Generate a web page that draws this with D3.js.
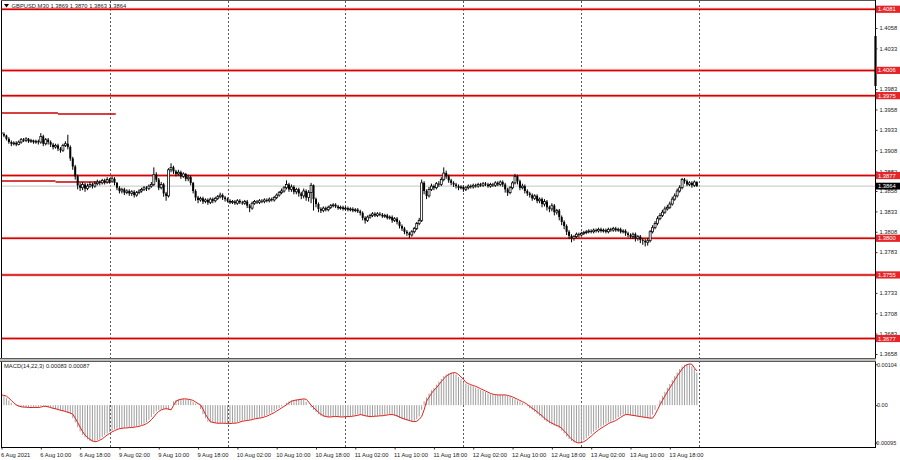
<!DOCTYPE html>
<html><head><meta charset="utf-8">
<script src="https://cdn.jsdelivr.net/npm/d3@7/dist/d3.min.js"></script>
<style>
body{margin:0;background:#fff}
svg{display:block}
text{font-family:"Liberation Sans",Arial,sans-serif;fill:#1a1a1a}
</style>
</head><body>
<svg id="chart" width="900" height="460"></svg>
<script>
// ---------------- DATA ----------------
const symbolTitle = "GBPUSD,M30";
const lastBarText = "1.3869 1.3870 1.3863 1.3864";
const macdTitle = "MACD(14,22,3) 0.00083 0.00087";

// M30 candles, prices in 1/10000 units (13864 = 1.3864)
const opens = [
13930,13928,13926,13922,13918,13916,13917,13915,13918,13921,
13920,13922,13919,13920,13918,13919,13918,13925,13916,13921,
13918,13915,13912,13914,13910,13908,13914,13916,13912,13898,
13888,13876,13865,13862,13866,13861,13864,13866,13864,13867,
13869,13868,13871,13869,13872,13870,13873,13868,13862,13858,
13860,13856,13858,13855,13857,13853,13856,13858,13860,13862,
13861,13864,13866,13878,13872,13862,13866,13855,13852,13884,
13887,13882,13879,13881,13876,13879,13873,13875,13868,13858,
13850,13847,13849,13845,13847,13844,13848,13846,13849,13851,
13853,13850,13848,13846,13844,13845,13843,13846,13844,13843,
13845,13840,13837,13843,13845,13844,13846,13845,13847,13846,
13848,13847,13850,13853,13856,13858,13862,13866,13860,13863,
13857,13860,13855,13852,13858,13850,13856,13865,13848,13842,
13836,13834,13837,13835,13838,13840,13841,13839,13837,13838,
13836,13837,13835,13836,13834,13835,13833,13831,13825,13822,
13826,13828,13830,13828,13830,13829,13827,13828,13825,13826,
13822,13824,13820,13815,13812,13808,13806,13804,13808,13812,
13818,13822,13868,13858,13852,13860,13864,13862,13867,13866,
13872,13880,13876,13871,13868,13866,13864,13862,13863,13860,
13862,13864,13863,13865,13864,13866,13865,13867,13866,13864,
13866,13865,13868,13866,13869,13866,13860,13856,13862,13868,
13876,13870,13862,13864,13858,13855,13853,13849,13852,13846,
13848,13842,13845,13838,13836,13840,13832,13834,13826,13820,
13815,13808,13803,13800,13802,13805,13804,13806,13807,13808,
13809,13808,13810,13809,13811,13809,13810,13808,13811,13810,
13812,13810,13811,13808,13809,13806,13804,13802,13805,13800,
13802,13798,13797,13795,13797,13808,13813,13818,13824,13828,
13832,13836,13838,13842,13848,13852,13858,13862,13872,13870,
13866,13868,13865,13869];
const highs = [
13932,13930,13927,13924,13920,13919,13919,13920,13923,13923,
13924,13923,13922,13921,13921,13921,13929,13927,13923,13923,
13920,13917,13916,13916,13912,13916,13919,13927,13914,13900,
13890,13878,13868,13869,13868,13867,13869,13868,13870,13872,
13871,13873,13873,13875,13874,13876,13875,13869,13864,13862,
13862,13860,13860,13859,13859,13858,13860,13862,13864,13864,
13866,13869,13887,13881,13874,13869,13868,13857,13886,13892,
13889,13884,13884,13883,13881,13880,13878,13877,13869,13860,
13852,13851,13851,13849,13849,13850,13850,13851,13853,13856,
13855,13852,13850,13848,13847,13847,13848,13848,13846,13847,
13847,13842,13845,13847,13847,13848,13848,13849,13849,13850,
13850,13852,13855,13858,13861,13864,13871,13868,13866,13865,
13862,13862,13857,13861,13860,13859,13868,13866,13850,13844,
13838,13839,13839,13840,13842,13843,13843,13841,13840,13840,
13839,13839,13838,13838,13837,13837,13835,13833,13827,13828,
13830,13832,13832,13832,13832,13831,13830,13830,13828,13828,
13826,13826,13822,13817,13814,13810,13808,13810,13814,13820,
13825,13872,13870,13860,13863,13867,13866,13869,13870,13875,
13887,13883,13878,13873,13870,13868,13866,13865,13865,13864,
13866,13866,13867,13867,13868,13868,13869,13869,13868,13868,
13868,13870,13870,13871,13871,13868,13862,13864,13870,13879,
13878,13872,13867,13866,13860,13857,13855,13854,13854,13850,
13850,13848,13847,13840,13843,13842,13836,13836,13828,13822,
13817,13810,13805,13804,13807,13807,13808,13809,13810,13811,
13811,13812,13812,13813,13813,13812,13812,13813,13813,13814,
13814,13813,13813,13811,13811,13808,13806,13807,13807,13804,
13804,13800,13799,13800,13810,13816,13821,13827,13831,13835,
13839,13841,13845,13851,13855,13861,13865,13874,13874,13872,
13870,13870,13871,13870];
const lows = [
13926,13924,13920,13916,13913,13914,13913,13914,13916,13918,
13918,13917,13917,13916,13916,13915,13916,13913,13914,13915,
13912,13909,13910,13907,13905,13906,13912,13909,13895,13884,
13872,13860,13858,13859,13857,13859,13862,13861,13862,13865,
13865,13866,13866,13867,13867,13868,13865,13859,13855,13855,
13853,13854,13852,13852,13850,13851,13854,13856,13858,13858,
13859,13862,13864,13869,13859,13860,13851,13846,13850,13881,
13879,13876,13877,13873,13874,13870,13870,13865,13855,13846,
13843,13845,13842,13843,13841,13842,13843,13844,13847,13849,
13847,13845,13844,13842,13842,13841,13841,13842,13841,13841,
13837,13832,13835,13841,13842,13842,13843,13843,13844,13844,
13845,13845,13848,13851,13854,13856,13860,13857,13857,13854,
13854,13851,13848,13849,13846,13845,13843,13834,13838,13832,
13831,13832,13833,13833,13836,13838,13837,13835,13835,13834,
13834,13833,13833,13832,13832,13831,13828,13822,13818,13820,
13824,13826,13826,13826,13827,13825,13825,13823,13823,13819,
13820,13817,13812,13809,13805,13803,13800,13802,13806,13810,
13816,13820,13854,13848,13850,13858,13859,13860,13863,13864,
13870,13873,13868,13865,13863,13861,13859,13860,13857,13858,
13860,13861,13861,13862,13862,13863,13863,13864,13862,13862,
13863,13863,13864,13864,13863,13856,13852,13854,13860,13866,
13866,13859,13860,13855,13852,13850,13846,13847,13843,13843,
13838,13839,13834,13832,13833,13828,13829,13822,13816,13811,
13804,13799,13795,13797,13800,13801,13802,13804,13805,13806,
13806,13806,13807,13807,13807,13807,13806,13806,13808,13808,
13808,13808,13806,13806,13803,13801,13799,13799,13796,13797,
13794,13792,13790,13791,13795,13806,13811,13816,13822,13826,
13830,13834,13836,13840,13846,13850,13856,13860,13867,13864,
13864,13862,13863,13863];
const closes = [
13928,13926,13922,13918,13916,13917,13915,13918,13921,13920,
13922,13919,13920,13918,13919,13918,13925,13916,13921,13918,
13915,13912,13914,13910,13908,13914,13916,13912,13898,13888,
13876,13865,13862,13866,13861,13864,13866,13864,13867,13869,
13868,13871,13869,13872,13870,13873,13868,13862,13858,13860,
13856,13858,13855,13857,13853,13856,13858,13860,13862,13861,
13864,13866,13878,13872,13862,13866,13855,13852,13884,13887,
13882,13879,13881,13876,13879,13873,13875,13868,13858,13850,
13847,13849,13845,13847,13844,13848,13846,13849,13851,13853,
13850,13848,13846,13844,13845,13843,13846,13844,13843,13845,
13840,13837,13843,13845,13844,13846,13845,13847,13846,13848,
13847,13850,13853,13856,13858,13862,13866,13860,13863,13857,
13860,13855,13852,13858,13850,13856,13865,13848,13842,13836,
13834,13837,13835,13838,13840,13841,13839,13837,13838,13836,
13837,13835,13836,13834,13835,13833,13831,13825,13822,13826,
13828,13830,13828,13830,13829,13827,13828,13825,13826,13822,
13824,13820,13815,13812,13808,13806,13804,13808,13812,13818,
13822,13868,13858,13852,13860,13864,13862,13867,13866,13872,
13880,13876,13871,13868,13866,13864,13862,13863,13860,13862,
13864,13863,13865,13864,13866,13865,13867,13866,13864,13866,
13865,13868,13866,13869,13866,13860,13856,13862,13868,13876,
13870,13862,13864,13858,13855,13853,13849,13852,13846,13848,
13842,13845,13838,13836,13840,13832,13834,13826,13820,13815,
13808,13803,13800,13802,13805,13804,13806,13807,13808,13809,
13808,13810,13809,13811,13809,13810,13808,13811,13810,13812,
13810,13811,13808,13809,13806,13804,13802,13805,13800,13802,
13798,13797,13795,13797,13808,13813,13818,13824,13828,13832,
13836,13838,13842,13848,13852,13858,13862,13872,13870,13866,
13868,13865,13869,13864];

// MACD(14,22,3) in 1e-5 units
const macdMain = [
25,23,18,12,6,1,-2,-4,-5,-5,
-6,-6,-6,-6,-6,-5,-3,-3,-4,-6,
-8,-9,-11,-13,-14,-16,-18,-20,-23,-33,
-44,-56,-67,-76,-82,-87,-91,-93,-92,-89,
-86,-81,-76,-72,-68,-65,-62,-60,-59,-58,
-58,-57,-57,-56,-55,-54,-52,-50,-47,-43,
-37,-30,-22,-16,-12,-10,-9,-10,-12,-1,
10,13,15,16,16,15,14,12,8,4,
1,-10,-23,-33,-42,-44,-45,-46,-46,-46,
-46,-47,-47,-46,-46,-45,-43,-41,-40,-39,
-38,-37,-35,-34,-33,-32,-30,-28,-25,-22,
-19,-15,-11,-7,-3,1,6,10,12,13,
14,15,16,15,8,0,-6,-12,-18,-23,
-27,-29,-30,-30,-29,-29,-29,-30,-30,-29,
-29,-29,-28,-27,-26,-24,-25,-27,-28,-29,
-29,-28,-28,-27,-27,-26,-25,-24,-24,-25,
-27,-30,-33,-35,-37,-39,-41,-42,-41,-36,
-29,-12,10,20,30,38,44,52,60,67,
74,78,81,83,82,78,72,66,58,55,
52,50,48,45,42,39,36,33,30,28,
27,26,26,26,26,25,23,21,18,15,
12,9,6,2,-3,-8,-12,-17,-22,-27,
-33,-38,-42,-46,-49,-52,-54,-59,-65,-72,
-80,-86,-91,-95,-96,-95,-93,-89,-84,-79,
-73,-68,-63,-59,-55,-51,-47,-44,-42,-39,
-35,-31,-27,-24,-24,-25,-26,-27,-28,-29,
-30,-31,-32,-33,-33,-24,-12,1,12,23,
34,44,54,64,74,83,92,99,103,105,
104,99,92,83];
const macdSignal = [
26,25,23,18,12,6,1,-2,-4,-5,
-5,-6,-6,-6,-6,-6,-5,-3,-3,-4,
-6,-8,-9,-11,-13,-14,-16,-18,-20,-23,
-33,-44,-56,-67,-76,-82,-87,-91,-93,-92,
-89,-86,-81,-76,-72,-68,-65,-62,-60,-59,
-58,-58,-57,-57,-56,-55,-54,-52,-50,-47,
-43,-37,-30,-22,-16,-12,-10,-9,-10,-12,
-1,10,13,15,16,16,15,14,12,8,
4,1,-10,-23,-33,-42,-44,-45,-46,-46,
-46,-46,-47,-47,-46,-46,-45,-43,-41,-40,
-39,-38,-37,-35,-34,-33,-32,-30,-28,-25,
-22,-19,-15,-11,-7,-3,1,6,10,12,
13,14,15,16,15,8,0,-6,-12,-18,
-23,-27,-29,-30,-30,-29,-29,-29,-30,-30,
-29,-29,-29,-28,-27,-26,-24,-25,-27,-28,
-29,-29,-28,-28,-27,-27,-26,-25,-24,-24,
-25,-27,-30,-33,-35,-37,-39,-41,-42,-41,
-36,-29,-12,10,20,30,38,44,52,60,
67,74,78,81,83,82,78,72,66,58,
55,52,50,48,45,42,39,36,33,30,
28,27,26,26,26,26,25,23,21,18,
15,12,9,6,2,-3,-8,-12,-17,-22,
-27,-33,-38,-42,-46,-49,-52,-54,-59,-65,
-72,-80,-86,-91,-95,-96,-95,-93,-89,-84,
-79,-73,-68,-63,-59,-55,-51,-47,-44,-42,
-39,-35,-31,-27,-24,-24,-25,-26,-27,-28,
-29,-30,-31,-32,-33,-33,-24,-12,1,12,
23,34,44,54,64,74,83,92,99,103,
105,104,95,87];

// horizontal support / resistance levels
const levelPrices = [1.4081, 1.4006, 1.3975, 1.3877, 1.3800, 1.3755, 1.3677];
const levelLabels = ["1.4081", "1.4006", "1.3975", "1.3877", "1.3800", "1.3755", "1.3677"];
// short old level segments at the left (bar from, bar to, price)
const segFrom = [0, 23, 0, 22];
const segTo = [23, 46.5, 22, 44];
const segPrice = [1.39537, 1.39525, 1.38703, 1.38690];
const bidPrice = 1.3864;
const bidLabel = "1.3864";

const priceTickLabels = ["1.4058","1.4033","1.3983","1.3958","1.3933","1.3908","1.3882","1.3858","1.3833","1.3808","1.3783","1.3733","1.3708","1.3683","1.3658"];
const macdTickLabels = ["0.00104", "0.00", "-0.00095"];
const timeLabels = ["6 Aug 2021","6 Aug 10:00","6 Aug 18:00","9 Aug 02:00","9 Aug 10:00","9 Aug 18:00","10 Aug 02:00","10 Aug 10:00","10 Aug 18:00","11 Aug 02:00","11 Aug 10:00","11 Aug 18:00","12 Aug 02:00","12 Aug 10:00","12 Aug 18:00","13 Aug 02:00","13 Aug 10:00","13 Aug 18:00"];
const timeLabelBars = [0,16,32,48,64,80,96,112,128,144,160,176,192,208,224,240,256,272];
const dayStartBars = [44, 92, 140, 188, 236, 284];

// ---------------- CHART ----------------
const svg = d3.select("#chart");
const W = 900;
const plotL = 1, plotR = 875;
const mainTop = 1, mainBot = 358;
const subTop = 361, subBot = 447;
const FS = 5.8;

const x = d3.scaleLinear().domain([0, 284]).range([1.5, 1.5 + 284 * 2.457]);
const y = d3.scaleLinear().domain([1.3658, 1.4058]).range([354, 28]);
const ym = d3.scaleLinear().domain([-0.00095, 0.00104]).range([442.5, 364.3]);

const bars = closes.map((c, i) => ({
  i, o: opens[i] / 1e4, h: highs[i] / 1e4, l: lows[i] / 1e4, c: c / 1e4
}));

const defs = svg.append("defs");
defs.append("clipPath").attr("id", "mainClip").append("rect")
  .attr("x", plotL).attr("y", mainTop).attr("width", plotR - plotL).attr("height", mainBot - mainTop);

// vertical dashed day grid
const grid = svg.append("g");
[[mainTop, mainBot], [subTop, subBot]].forEach(([a, b]) => {
  grid.selectAll(null).data(dayStartBars).join("line")
    .attr("x1", d => Math.round(x(d)) + 0.5).attr("x2", d => Math.round(x(d)) + 0.5)
    .attr("y1", a).attr("y2", b)
    .attr("stroke", "#5a5a5a").attr("stroke-width", 1).attr("stroke-dasharray", "2,2");
});

const main = svg.append("g").attr("clip-path", "url(#mainClip)");

// bid line
main.append("line").attr("x1", plotL).attr("x2", plotR)
  .attr("y1", y(bidPrice)).attr("y2", y(bidPrice))
  .attr("stroke", "#c4c4c4").attr("stroke-width", 1);

// level lines
const lv = main.append("g");
lv.selectAll("line.halo").data(levelPrices).join("line").attr("class", "halo")
  .attr("x1", plotL).attr("x2", plotR).attr("y1", d => y(d)).attr("y2", d => y(d))
  .attr("stroke", "#f08080").attr("stroke-opacity", 0.45).attr("stroke-width", 3.2);
lv.selectAll("line.lvl").data(levelPrices).join("line").attr("class", "lvl")
  .attr("x1", plotL).attr("x2", plotR).attr("y1", d => y(d)).attr("y2", d => y(d))
  .attr("stroke", "#d90000").attr("stroke-width", 1.5);

// short segments
segPrice.forEach((p, k) => {
  main.append("line").attr("x1", x(segFrom[k])).attr("x2", x(segTo[k]))
    .attr("y1", y(p)).attr("y2", y(p))
    .attr("stroke", "#c80000").attr("stroke-width", 1.4);
});

// candles
const cg = main.append("g");
cg.selectAll("line.wick").data(bars).join("line").attr("class", "wick")
  .attr("x1", d => x(d.i)).attr("x2", d => x(d.i))
  .attr("y1", d => y(d.h)).attr("y2", d => y(d.l))
  .attr("stroke", "#000").attr("stroke-width", 1);
cg.selectAll("rect.body").data(bars).join("rect").attr("class", "body")
  .attr("x", d => x(d.i) - 1).attr("width", 2)
  .attr("y", d => y(Math.max(d.o, d.c)))
  .attr("height", d => Math.max(0.9, Math.abs(y(d.o) - y(d.c))))
  .attr("fill", d => d.c < d.o ? "#000" : "#fff")
  .attr("stroke", "#000").attr("stroke-width", d => d.c < d.o ? 0 : 0.75);

// MACD pane
const mg = svg.append("g");
mg.selectAll("line.hist").data(macdMain).join("line").attr("class", "hist")
  .attr("x1", (d, i) => x(i)).attr("x2", (d, i) => x(i))
  .attr("y1", ym(0)).attr("y2", d => ym(d / 1e5))
  .attr("stroke", "#9e9e9e").attr("stroke-width", 1);
mg.append("path").datum(macdSignal)
  .attr("d", d3.line().x((d, i) => x(i)).y(d => ym(d / 1e5)))
  .attr("fill", "none").attr("stroke", "#e0201c").attr("stroke-width", 1);

// frames
const fr = svg.append("g").attr("stroke", "#000").attr("fill", "none");
fr.append("line").attr("x1", 1.5).attr("x2", 1.5).attr("y1", 0).attr("y2", subBot);
fr.append("line").attr("x1", 1).attr("x2", plotR).attr("y1", 0.5).attr("y2", 0.5).attr("stroke", "#555");
fr.append("line").attr("x1", plotR + 0.5).attr("x2", plotR + 0.5).attr("y1", 0).attr("y2", subBot + 0.5);
fr.append("line").attr("x1", 1).attr("x2", plotR + 1).attr("y1", subBot + 0.5).attr("y2", subBot + 0.5);
// pane separator
svg.append("rect").attr("x", 0).attr("y", mainBot).attr("width", plotR + 1).attr("height", 3.4)
  .attr("fill", "#bdbdbd");
svg.append("line").attr("x1", 0).attr("x2", plotR + 1).attr("y1", mainBot + 0.5).attr("y2", mainBot + 0.5).attr("stroke", "#5a5a5a");
svg.append("line").attr("x1", 0).attr("x2", plotR + 1).attr("y1", subTop + 0.5).attr("y2", subTop + 0.5).attr("stroke", "#5a5a5a");
// scale marker
svg.append("line").attr("x1", plotR + 0.5).attr("x2", plotR + 0.5).attr("y1", 36).attr("y2", 86)
  .attr("stroke", "#000").attr("stroke-width", 2.2);

// price axis
const priceAxis = d3.axisRight(y)
  .tickValues(priceTickLabels.map(Number))
  .tickFormat((d, i) => priceTickLabels[i])
  .tickSize(2).tickPadding(2);
const pa = svg.append("g").attr("transform", `translate(${plotR + 0.5},0)`).call(priceAxis);
pa.select(".domain").remove();
pa.selectAll("line").attr("stroke", "#333");
pa.selectAll("text").attr("font-size", FS).attr("font-family", "Liberation Sans, Arial, sans-serif").attr("fill", "#222");

// MACD axis
const macdAxis = d3.axisRight(ym)
  .tickValues(macdTickLabels.map(Number))
  .tickFormat((d, i) => macdTickLabels[i])
  .tickSize(2).tickPadding(1);
const ma = svg.append("g").attr("transform", `translate(${plotR + 0.5},0)`).call(macdAxis);
ma.select(".domain").remove();
ma.selectAll("line").attr("stroke", "#333");
ma.selectAll("text").attr("font-size", 5.5).attr("font-family", "Liberation Sans, Arial, sans-serif").attr("fill", "#222")
  .attr("x", (d, i) => macdTickLabels[i].startsWith("-") ? -1 : 1.5);

// time axis
const timeAxis = d3.axisBottom(x)
  .tickValues(timeLabelBars)
  .tickFormat((d, i) => timeLabels[i])
  .tickSize(2).tickPadding(2);
const ta = svg.append("g").attr("transform", `translate(0,${subBot + 0.5})`).call(timeAxis);
ta.select(".domain").remove();
ta.selectAll("line").attr("stroke", "#333");
ta.selectAll("text").attr("font-size", FS).attr("font-family", "Liberation Sans, Arial, sans-serif")
  .attr("fill", "#222").attr("text-anchor", "start").attr("x", -1).attr("dy", "0.9em");

// level labels on the axis
const lbl = svg.append("g");
levelPrices.forEach((p, k) => {
  lbl.append("rect").attr("x", plotR + 1).attr("y", y(p) - 3.6).attr("width", W - plotR - 1).attr("height", 7.2)
    .attr("fill", "#e3262a");
  lbl.append("text").attr("x", plotR + 3).attr("y", y(p)).attr("dy", "0.35em")
    .attr("font-size", FS).style("fill", "#fff").text(levelLabels[k]);
});
lbl.append("rect").attr("x", plotR + 1).attr("y", y(bidPrice) - 3.4).attr("width", W - plotR - 1).attr("height", 6.8)
  .attr("fill", "#000");
lbl.append("text").attr("x", plotR + 3).attr("y", y(bidPrice)).attr("dy", "0.35em")
  .attr("font-size", FS).style("fill", "#fff").text(bidLabel);

// titles
svg.append("path").attr("d", "M4,4 L9,4 L6.5,7.5 Z").attr("fill", "#000");
svg.append("text").attr("x", 11.5).attr("y", 8).attr("font-size", FS)
  .text(symbolTitle + "  " + lastBarText);
svg.append("text").attr("x", 4).attr("y", 368).attr("font-size", FS).text(macdTitle);
</script>
</body></html>
